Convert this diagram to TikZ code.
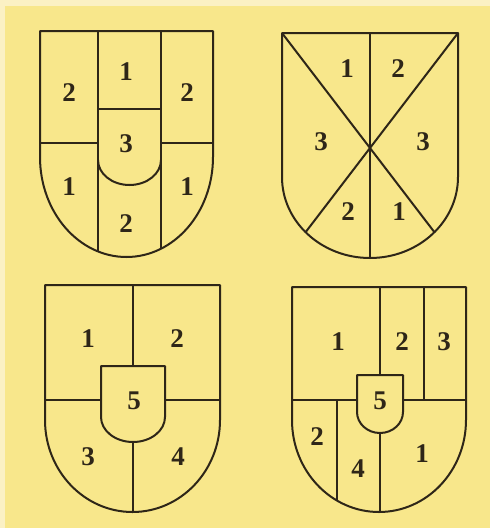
\documentclass[tikz,border=0pt]{standalone}
\usepackage{fontspec}
\setmainfont{Liberation Serif}
\begin{document}
\begin{tikzpicture}[x=1pt,y=-1pt,
  edge/.style={draw=inkc,line width=2pt,line join=round},
  num/.style={font=\fontsize{27}{27}\selectfont\bfseries,text=inkc,inner sep=0pt}]
\definecolor{bgc}{HTML}{F8E78B}
\definecolor{edgec}{HTML}{FBF1C4}
\definecolor{inkc}{HTML}{2E2618}
\useasboundingbox (0,0) rectangle (490,528);
\fill[bgc] (0,0) rectangle (490,528);
\fill[edgec] (0,0) rectangle (490,6);
\fill[edgec] (0,0) rectangle (5,528);

% ---------- Shield 1 ----------
\begin{scope}
\clip (40,31) -- (213,31) -- (213,157) arc[start angle=0,end angle=180,x radius=86.5,y radius=100] -- cycle;
\draw[edge] (98,20) -- (98,270);
\draw[edge] (161,20) -- (161,270);
\draw[edge] (30,143) -- (98,143);
\draw[edge] (161,143) -- (225,143);
\end{scope}
\draw[edge] (98,109) -- (161,109);
\draw[edge] (98,160) arc[start angle=180,end angle=0,x radius=31.5,y radius=25];
\draw[edge] (40,31) -- (213,31) -- (213,157) arc[start angle=0,end angle=180,x radius=86.5,y radius=100] -- cycle;
\node[num] (a1) at (69,93) {2};
\node[num] (a2) at (126,72) {1};
\node[num] (a3) at (187,93) {2};
\node[num] (a4) at (126,144) {3};
\node[num] (a5) at (69,187) {1};
\node[num] (a6) at (187,187) {1};
\node[num] (a7) at (126,224) {2};

% ---------- Shield 2 ----------
\begin{scope}
\clip (282,33) -- (458,33) -- (458,177) arc[start angle=0,end angle=180,x radius=88,y radius=81] -- cycle;
\draw[edge] (370,20) -- (370,270);
\draw[edge] (282,33) -- (458,263);
\draw[edge] (458,33) -- (282,263);
\end{scope}
\draw[edge] (282,33) -- (458,33) -- (458,177) arc[start angle=0,end angle=180,x radius=88,y radius=81] -- cycle;
\node[num] (b1) at (347,69) {1};
\node[num] (b2) at (398,69) {2};
\node[num] (b3) at (321,142) {3};
\node[num] (b4) at (423,142) {3};
\node[num] (b5) at (348,212) {2};
\node[num] (b6) at (399,212) {1};

% ---------- Shield 3 ----------
\begin{scope}
\clip (45,285) -- (220,285) -- (220,420) arc[start angle=0,end angle=180,x radius=87.5,y radius=92] -- cycle;
\draw[edge] (133,275) -- (133,366);
\draw[edge] (133,442) -- (133,525);
\draw[edge] (35,400) -- (101,400);
\draw[edge] (165,400) -- (230,400);
\end{scope}
\draw[edge] (101,366) -- (165,366) -- (165,417) arc[start angle=0,end angle=180,x radius=32,y radius=25] -- cycle;
\draw[edge] (45,285) -- (220,285) -- (220,420) arc[start angle=0,end angle=180,x radius=87.5,y radius=92] -- cycle;
\node[num] (c1) at (88,339) {1};
\node[num] (c2) at (177,339) {2};
\node[num] (c5) at (134,401) {5};
\node[num] (c3) at (88,457) {3};
\node[num] (c4) at (178,457) {4};

% ---------- Shield 4 ----------
\begin{scope}
\clip (292,287) -- (466,287) -- (466,420) arc[start angle=0,end angle=180,x radius=87,y radius=92] -- cycle;
\draw[edge] (380,277) -- (380,375);
\draw[edge] (424,277) -- (424,400);
\draw[edge] (282,400) -- (357,400);
\draw[edge] (403,400) -- (476,400);
\draw[edge] (337,400) -- (337,525);
\draw[edge] (380,433) -- (380,525);
\end{scope}
\draw[edge] (357,375) -- (403,375) -- (403,412) arc[start angle=0,end angle=180,x radius=23,y radius=21] -- cycle;
\draw[edge] (292,287) -- (466,287) -- (466,420) arc[start angle=0,end angle=180,x radius=87,y radius=92] -- cycle;
\node[num] (d1) at (338,342) {1};
\node[num] (d2) at (402,342) {2};
\node[num] (d3) at (444,342) {3};
\node[num] (d5) at (380,401) {5};
\node[num] (d6) at (317,437) {2};
\node[num] (d7) at (358,469) {4};
\node[num] (d8) at (422,454) {1};
\end{tikzpicture}
\end{document}
